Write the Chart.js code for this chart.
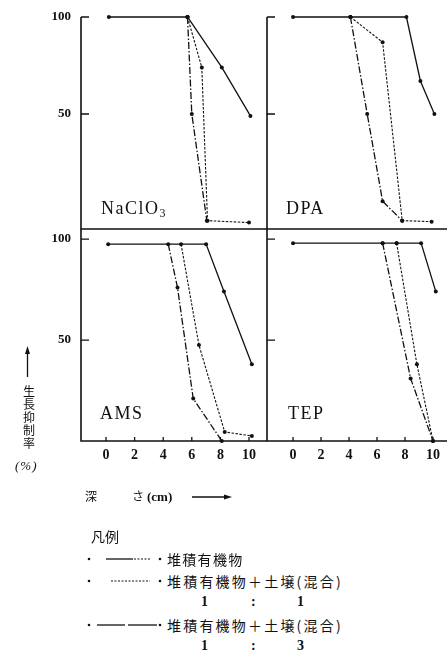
<!DOCTYPE html>
<html>
<head>
<meta charset="utf-8">
<script src="https://cdn.jsdelivr.net/npm/chart.js@4.4.1/dist/chart.umd.min.js"></script>
<style>
body { margin: 0; background: #fff; }
#page { position: relative; width: 447px; height: 653px; overflow: hidden; font-family: 'Liberation Serif', serif; color: #111; }
#page canvas { position: absolute; }
.t { position: absolute; white-space: nowrap; line-height: 1; }
.cjk { font-family: 'Noto Sans CJK JP', sans-serif; }
.lab { font-size: 18px; letter-spacing: 1.5px; }
</style>
</head>
<body>
<div id="page">
  <canvas id="tl" width="270" height="232" style="left:0;top:0"></canvas>
  <canvas id="tr" width="183" height="232" style="left:264px;top:0"></canvas>
  <canvas id="bl" width="270" height="245" style="left:0;top:226px"></canvas>
  <canvas id="br" width="183" height="245" style="left:264px;top:226px"></canvas>

  <div class="t lab" style="left:101px;top:199px">NaClO<span style="font-size:12px;position:relative;top:3px">3</span></div>
  <div class="t lab" style="left:286px;top:199px">DPA</div>
  <div class="t lab" style="left:100px;top:404px">AMS</div>
  <div class="t lab" style="left:288px;top:404px">TEP</div>

  <div class="t cjk" style="left:21px;top:384px;font-size:12px;line-height:13px;text-align:center;width:16px">生<br>長<br>抑<br>制<br>率</div>
  <div class="t" style="left:15px;top:459px;font-size:13px;font-style:italic;letter-spacing:1px">(%)</div>

  <div class="t cjk" style="left:85px;top:490px;font-size:12px">深</div>
  <div class="t cjk" style="left:132px;top:490px;font-size:12px">さ</div>
  <div class="t" style="left:147px;top:490px;font-size:13px;font-weight:bold">(cm)</div>

  <div class="t cjk" style="left:91px;top:529px;font-size:14px">凡例</div>
  <div class="t cjk" style="left:167px;top:552px;font-size:14px;letter-spacing:1.3px">堆積有機物</div>
  <div class="t cjk" style="left:167px;top:574px;font-size:14px;letter-spacing:2.2px">堆積有機物＋土壌(混合)</div>
  <div class="t" style="left:201px;top:595px;font-size:14px;font-weight:bold">1</div>
  <div class="t" style="left:251px;top:595px;font-size:14px;font-weight:bold">:</div>
  <div class="t" style="left:297px;top:595px;font-size:14px;font-weight:bold">1</div>
  <div class="t cjk" style="left:167px;top:618px;font-size:14px;letter-spacing:2.2px">堆積有機物＋土壌(混合)</div>
  <div class="t" style="left:201px;top:639px;font-size:14px;font-weight:bold">1</div>
  <div class="t" style="left:251px;top:639px;font-size:14px;font-weight:bold">:</div>
  <div class="t" style="left:297px;top:639px;font-size:14px;font-weight:bold">3</div>

  <svg width="447" height="653" style="position:absolute;left:0;top:0" stroke="#111" fill="#111">
    <line x1="27.5" y1="353" x2="27.5" y2="377" stroke-width="1.3"/>
    <path d="M27.5 346 L25 354 L30 354 Z" stroke="none"/>
    <line x1="192" y1="497" x2="226" y2="497" stroke-width="1.3"/>
    <path d="M232 497 L224 494.5 L224 499.5 Z" stroke="none"/>

    <circle cx="89" cy="559" r="1.3" stroke="none"/>
    <line x1="106" y1="559" x2="133" y2="559" stroke-width="1.3"/>
    <line x1="134" y1="559" x2="150" y2="559" stroke-width="1" stroke-dasharray="2 1.5"/>
    <circle cx="160" cy="559" r="1.3" stroke="none"/>

    <circle cx="89" cy="581" r="1.3" stroke="none"/>
    <line x1="111" y1="581" x2="150" y2="581" stroke-width="1" stroke-dasharray="2 1.5"/>
    <circle cx="160" cy="581" r="1.3" stroke="none"/>

    <circle cx="89" cy="625" r="1.3" stroke="none"/>
    <line x1="97" y1="625" x2="125" y2="625" stroke-width="1.3"/>
    <line x1="128" y1="625" x2="157" y2="625" stroke-width="1.3"/>
    <circle cx="160" cy="625" r="1.3" stroke="none"/>
  </svg>
</div>

<script>
// depth (cm) and growth-inhibition (%), per herbicide and series
const naclo3OrgX = [0.2, 5.7, 8.1, 10.1];
const naclo3OrgY = [100, 100, 74, 49];
const naclo3Mix11X = [5.7, 6.7, 7.1, 10];
const naclo3Mix11Y = [100, 74, -5, -6];
const naclo3Mix13X = [5.7, 6.0, 7.05];
const naclo3Mix13Y = [100, 50, -5];

const dpaOrgX = [0, 4.1, 8.1, 9.1, 10.1];
const dpaOrgY = [100, 100, 100, 67, 50];
const dpaMix11X = [4.1, 6.4, 7.8, 9.9];
const dpaMix11Y = [100, 87, -5, -5.5];
const dpaMix13X = [4.1, 5.3, 6.4, 7.8];
const dpaMix13Y = [100, 50, 5, -5];

const amsOrgX = [0.15, 7.0, 8.25, 10.2];
const amsOrgY = [97.5, 97.5, 74, 38];
const amsMix11X = [5.25, 6.5, 8.3, 10.2];
const amsMix11Y = [97.5, 47.5, 4.5, 2.5];
const amsMix13X = [4.35, 5.0, 6.1, 8.1];
const amsMix13Y = [97.5, 76, 21, 0];

const tepOrgX = [0, 6.4, 7.4, 9.15, 10.2];
const tepOrgY = [98, 98, 98, 98, 74];
const tepMix11X = [7.4, 8.85, 10];
const tepMix11Y = [98, 38, 0];
const tepMix13X = [6.4, 8.4, 10];
const tepMix13Y = [98, 31, 0];

const yTickVals = [50, 100];
const xTickVals = [0, 2, 4, 6, 8, 10];

const INK = '#111';
const dashOf = { org: [], mix11: [2.5, 1.5], mix13: [7, 2, 1.5, 2] };

function series(xs, ys, kind) {
    return {
        data: xs.map((x, i) => ({ x: x, y: ys[i] })),
        borderColor: INK,
        backgroundColor: INK,
        borderWidth: kind === 'mix11' ? 1.1 : 1.3,
        borderDash: dashOf[kind],
        pointRadius: 2,
        pointBorderWidth: 0,
        tension: 0,
        clip: false,
    };
}

// axis lines + inward tick marks, placed through the chart's scales
const frame = {
    id: 'frame',
    afterDraw(chart, args, o) {
        const { ctx, chartArea: a, scales } = chart;
        ctx.save();
        ctx.strokeStyle = INK;
        ctx.lineWidth = 1.6;
        ctx.beginPath();
        ctx.moveTo(a.left, a.top);
        ctx.lineTo(a.left, a.bottom);
        ctx.lineTo(a.right, a.bottom);
        ctx.stroke();
        ctx.lineWidth = 1.3;
        ctx.beginPath();
        yTickVals.forEach(v => {
            const py = scales.y.getPixelForValue(v);
            ctx.moveTo(a.left, py);
            ctx.lineTo(a.left + 8, py);
        });
        if (o.xTicks) {
            xTickVals.forEach(v => {
                const px = scales.x.getPixelForValue(v);
                ctx.moveTo(px, a.bottom);
                ctx.lineTo(px, a.bottom - 4);
            });
        }
        ctx.stroke();
        ctx.restore();
    }
};

const noPad = s => { s.paddingLeft = 0; s.paddingRight = 0; s.paddingTop = 0; s.paddingBottom = 0; };

function panel(id, sets, o) {
    new Chart(document.getElementById(id), {
        type: 'line',
        data: { datasets: sets },
        plugins: [frame],
        options: {
            responsive: false,
            animation: false,
            events: [],
            layout: { autoPadding: false, padding: o.padding },
            scales: {
                x: {
                    type: 'linear',
                    min: o.xMin, max: o.xMax,
                    display: o.xLabels,
                    grid: { display: false, drawTicks: false },
                    border: { display: false },
                    afterBuildTicks: s => { s.ticks = xTickVals.map(v => ({ value: v })); },
                    afterFit: s => { s.height = o.xLabels ? 30 : 0; noPad(s); },
                    ticks: {
                        padding: 6,
                        maxRotation: 0,
                        autoSkip: false,
                        color: INK,
                        font: { family: 'Liberation Serif', size: 14, weight: 'bold' },
                    },
                },
                y: {
                    min: o.yMin, max: o.yMax,
                    display: o.yLabels,
                    grid: { display: false, drawTicks: false },
                    border: { display: false },
                    afterBuildTicks: s => { s.ticks = yTickVals.map(v => ({ value: v })); },
                    afterFit: s => { s.width = o.yLabels ? 81 : 0; noPad(s); },
                    ticks: {
                        padding: 10,
                        color: INK,
                        font: { family: 'Liberation Serif', size: 13, weight: 'bold' },
                    },
                },
            },
            plugins: {
                legend: { display: false },
                tooltip: { enabled: false },
                frame: { xTicks: o.xLabels },
            },
        },
    });
}

const leftX = { xMin: -1.75, xMax: 11.26 };
const rightX = { xMin: -1.86, xMax: 11.0 };
const topY = { yMin: -9.3, yMax: 100 };
const botY = { yMin: 0, yMax: 105 };

panel('tl', [
    series(naclo3OrgX, naclo3OrgY, 'org'),
    series(naclo3Mix11X, naclo3Mix11Y, 'mix11'),
    series(naclo3Mix13X, naclo3Mix13Y, 'mix13'),
], Object.assign({ padding: { top: 17, right: 3, bottom: 3 }, xLabels: false, yLabels: true }, leftX, topY));

panel('tr', [
    series(dpaOrgX, dpaOrgY, 'org'),
    series(dpaMix11X, dpaMix11Y, 'mix11'),
    series(dpaMix13X, dpaMix13Y, 'mix13'),
], Object.assign({ padding: { left: 3, top: 17, bottom: 3 }, xLabels: false, yLabels: false }, rightX, topY));

panel('bl', [
    series(amsOrgX, amsOrgY, 'org'),
    series(amsMix11X, amsMix11Y, 'mix11'),
    series(amsMix13X, amsMix13Y, 'mix13'),
], Object.assign({ padding: { top: 3, right: 3 }, xLabels: true, yLabels: true }, leftX, botY));

panel('br', [
    series(tepOrgX, tepOrgY, 'org'),
    series(tepMix11X, tepMix11Y, 'mix11'),
    series(tepMix13X, tepMix13Y, 'mix13'),
], Object.assign({ padding: { left: 3, top: 3 }, xLabels: true, yLabels: false }, rightX, botY));
</script>
</body>
</html>
